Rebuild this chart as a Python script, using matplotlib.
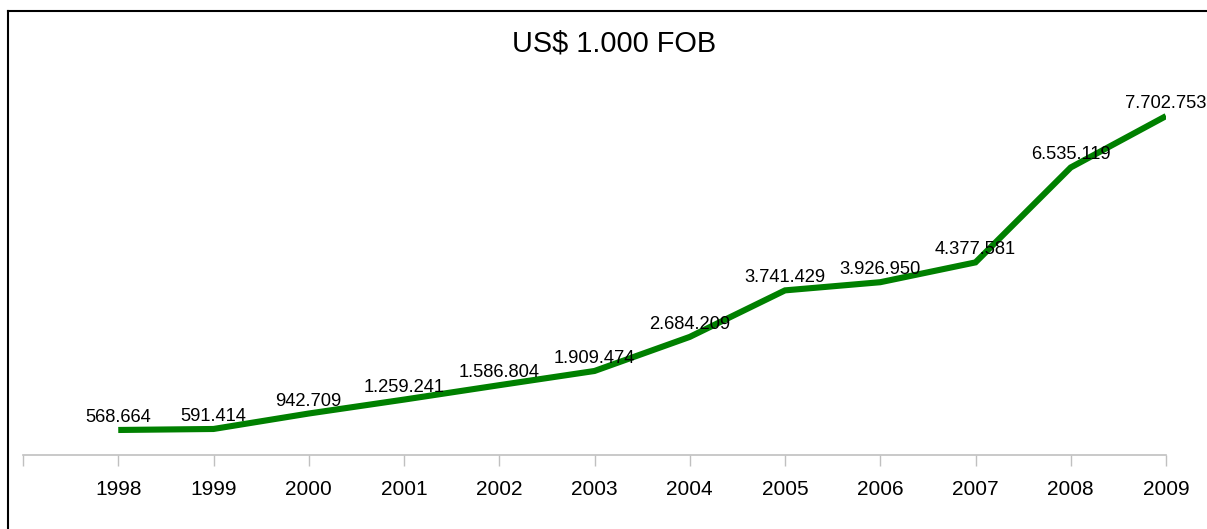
import matplotlib
matplotlib.use("Agg")
import matplotlib.pyplot as plt
from matplotlib.lines import Line2D

plt.rcParams["font.family"] = ["Liberation Sans", "DejaVu Sans"]

years = [1998, 1999, 2000, 2001, 2002, 2003, 2004, 2005, 2006, 2007, 2008, 2009]
values = [568664, 591414, 942709, 1259241, 1586804, 1909474,
          2684209, 3741429, 3926950, 4377581, 6535119, 7702753]
labels = ["568.664", "591.414", "942.709", "1.259.241", "1.586.804", "1.909.474",
          "2.684.209", "3.741.429", "3.926.950", "4.377.581", "6.535.119", "7.702.753"]
title = "US$ 1.000 FOB"

W, H = 1207, 529
fig = plt.figure(figsize=(W / 100, H / 100), dpi=100)

# axes box in pixel coords: x 23..1166, y 59..455
left, right, top, bottom = 23, 1166, 59, 455
ax = fig.add_axes([left / W, 1 - bottom / H, (right - left) / W, (bottom - top) / H])

ax.plot(years, values, color="#008000", linewidth=4.4, solid_capstyle="butt",
        solid_joinstyle="miter")
for x, v, lab in zip(years, values, labels):
    ax.annotate(lab, (x, v), xytext=(0, 9), textcoords="offset points",
                ha="center", va="center", fontsize=13.2, color="black")

ax.set_xlim(1997, 2009)
ax.set_ylim(0, 9000000)
ax.set_xticks(list(range(1997, 2010)))
ax.set_xticklabels([""] + [str(y) for y in years], fontsize=15)
ax.tick_params(axis="x", direction="out", length=8, width=1, color="#c0c0c0", pad=10)
ax.set_yticks([])
for side in ["top", "right", "left"]:
    ax.spines[side].set_visible(False)
ax.spines["bottom"].set_color("#c0c0c0")
ax.spines["bottom"].set_linewidth(1.2)

fig.text(614 / W, 1 - 43 / H, title, ha="center", va="center", fontsize=20.8)

# outer chart border (left and top edges visible)
fig.add_artist(Line2D([8 / W, 8 / W], [1 - 11 / H, 0], color="black", linewidth=1.5,
                      transform=fig.transFigure))
fig.add_artist(Line2D([8 / W, 1], [1 - 11 / H, 1 - 11 / H], color="black", linewidth=1.5,
                      transform=fig.transFigure))

fig.savefig("out.png", dpi=100)
